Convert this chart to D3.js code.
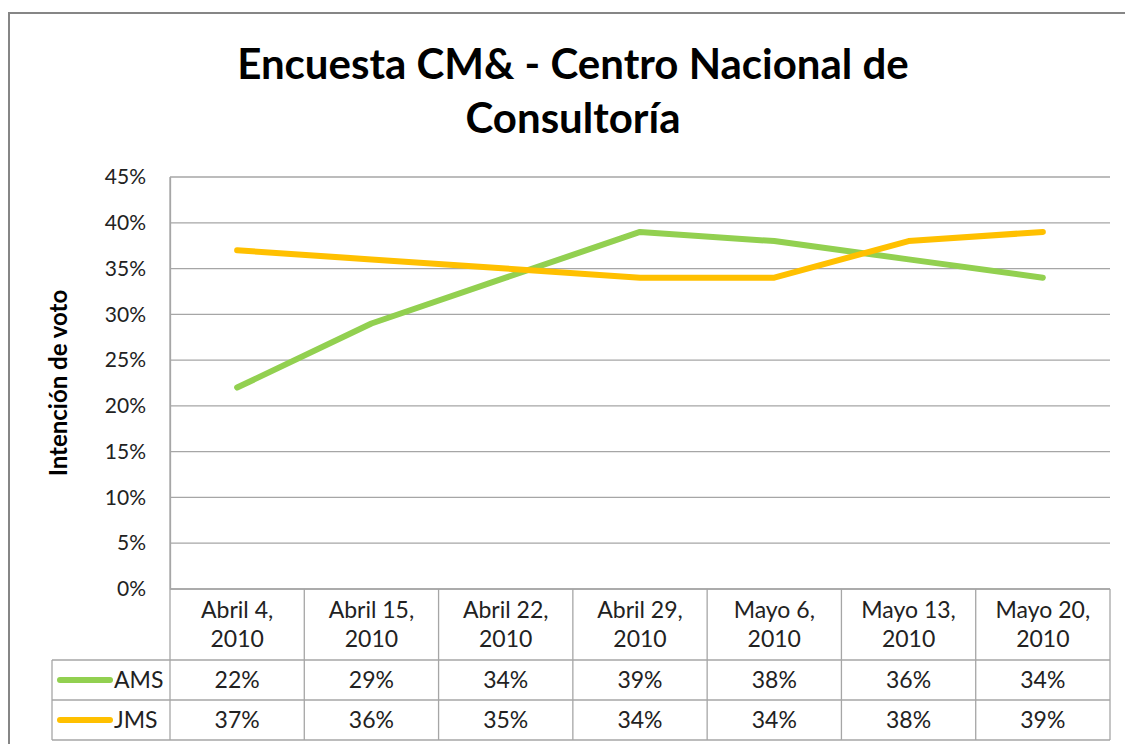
<!DOCTYPE html>
<html><head><meta charset="utf-8">
<script src="https://cdn.jsdelivr.net/npm/d3@7"></script>
<style>body{margin:0;background:#fff;} text{font-family:Lato,"Open Sans",sans-serif;}</style>
</head><body>
<svg id="c" width="1125" height="744"></svg>
<script>
const categories = [["Abril 4,","2010"],["Abril 15,","2010"],["Abril 22,","2010"],["Abril 29,","2010"],["Mayo 6,","2010"],["Mayo 13,","2010"],["Mayo 20,","2010"]];
const seriesNames = ["AMS","JMS"];
const amsValues = [22,29,34,39,38,36,34];
const jmsValues = [37,36,35,34,34,38,39];
const yTicks = [0,5,10,15,20,25,30,35,40,45];
const colors = ["#92D050","#FFC000"];
const series = [{name:seriesNames[0],values:amsValues,color:colors[0]},{name:seriesNames[1],values:jmsValues,color:colors[1]}];

const svg = d3.select("#c");
const L=170, R=1110, T=177, B=589;
const x = d3.scaleBand().domain(d3.range(categories.length)).range([L,R]);
const y = d3.scaleLinear().domain([0,45]).range([B,T]);
const FS = 23;

// outer border
svg.append("rect").attr("x",9).attr("y",13).attr("width",1125).attr("height",760).attr("fill","none").attr("stroke","#868686").attr("stroke-width",2);

// title
svg.append("text").attr("x",573).attr("y",79).attr("text-anchor","middle").attr("font-size",42).attr("font-weight","bold").attr("fill","#000").text("Encuesta CM& - Centro Nacional de");
svg.append("text").attr("x",573).attr("y",133).attr("text-anchor","middle").attr("font-size",42).attr("font-weight","bold").attr("fill","#000").text("Consultoría");

// gridlines
svg.append("g").selectAll("line").data(yTicks).join("line")
  .attr("x1",L).attr("x2",R).attr("y1",d=>y(d)).attr("y2",d=>y(d))
  .attr("stroke","#a6a6a6").attr("stroke-width",1.3);

// y axis
const ya = svg.append("g").attr("transform",`translate(${L},0)`).call(d3.axisLeft(y).tickValues(yTicks).tickFormat(d=>d+"%").tickSize(0).tickPadding(24));
ya.select(".domain").attr("stroke","#a6a6a6").attr("stroke-width",1.3);
ya.selectAll("text").attr("font-size",21).attr("fill","#222").style("font-family","Lato,'Open Sans',sans-serif");

svg.append("text").attr("transform","translate(67,383) rotate(-90)").attr("text-anchor","middle").attr("font-size",24).attr("font-weight","bold").attr("fill","#000").text("Intención de voto");

// data table
const tableLeft = 52, rowH = [B,660,700,740];
const tg = svg.append("g").attr("stroke","#a6a6a6").attr("stroke-width",1.3);
tg.append("line").attr("x1",L).attr("x2",R).attr("y1",rowH[0]).attr("y2",rowH[0]);
[1,2,3].forEach(i=>tg.append("line").attr("x1",tableLeft).attr("x2",R).attr("y1",rowH[i]).attr("y2",rowH[i]));
tg.append("line").attr("x1",tableLeft).attr("x2",tableLeft).attr("y1",rowH[1]).attr("y2",rowH[3]);
d3.range(categories.length+1).forEach(i=>{
  const xx = i<categories.length ? x(i) : R;
  tg.append("line").attr("x1",xx).attr("x2",xx).attr("y1",i===0?T:rowH[0]).attr("y2",rowH[3]);
});

// category labels
categories.forEach((c,i)=>{
  const cx = x(i)+x.bandwidth()/2;
  svg.append("text").attr("x",cx).attr("y",618).attr("text-anchor","middle").attr("font-size",FS).attr("fill","#222").text(c[0]);
  svg.append("text").attr("x",cx).attr("y",647).attr("text-anchor","middle").attr("font-size",FS).attr("fill","#222").text(c[1]);
});

// values rows + legend
series.forEach((s,si)=>{
  const cy = (rowH[si+1]+rowH[si+2])/2;
  svg.append("line").attr("x1",60).attr("x2",110).attr("y1",cy).attr("y2",cy).attr("stroke",s.color).attr("stroke-width",6).attr("stroke-linecap","round");
  svg.append("text").attr("x",114).attr("y",cy+8).attr("font-size",FS).attr("fill","#222").text(s.name);
  s.values.forEach((v,i)=>{
    svg.append("text").attr("x",x(i)+x.bandwidth()/2).attr("y",cy+8).attr("text-anchor","middle").attr("font-size",FS).attr("fill","#222").text(v+"%");
  });
});

// lines
const line = d3.line().x((d,i)=>x(i)+x.bandwidth()/2).y(d=>y(d));
series.forEach(s=>{
  svg.append("path").datum(s.values).attr("d",line).attr("fill","none").attr("stroke",s.color).attr("stroke-width",6).attr("stroke-linecap","round").attr("stroke-linejoin","round");
});
</script>
</body></html>
